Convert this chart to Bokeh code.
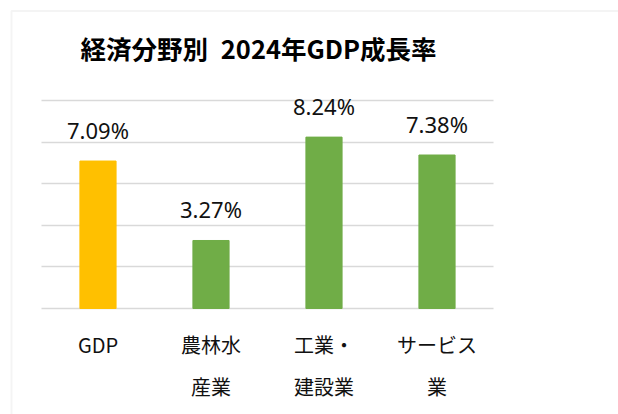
from bokeh.plotting import figure
from bokeh.models import (ColumnDataSource, Range1d, FixedTicker, Grid,
                          LabelSet, Label, BoxAnnotation)
from bokeh.core.properties import value
from bokeh.embed import file_html
from bokeh.resources import INLINE

# ---- data ----
categories = ["GDP", "農林水産業", "工業・建設業", "サービス業"]
values = [7.09, 3.27, 8.24, 7.38]
bar_colors = ["#FFC000", "#70AD47", "#70AD47", "#70AD47"]
label_line1 = ["GDP", "農林水", "工業・", "サービス"]
label_line2 = ["", "産業", "建設業", "業"]
grid_ticks = [0, 2, 4, 6, 8, 10]
title_text = "経済分野別\u20022024年GDP成長率"

idx = list(range(len(categories)))
source = ColumnDataSource(dict(
    x=idx,
    cat=categories,
    val=values,
    zero=[0] * len(categories),
    color=bar_colors,
    txt=[f"{v:.2f}%" for v in values],
    l1=label_line1,
    l2=label_line2,
))

W, H = 618, 414
# frame covers the whole canvas; ranges chosen so that the plot area is 41..493 x 100..308
p = figure(width=W, height=H, output_backend="svg", toolbar_location=None,
           x_range=Range1d(-0.8628, 4.6062), y_range=Range1d(-5.096, 14.808),
           x_axis_location=None, y_axis_location=None,
           min_border=0)
p.outline_line_color = None
p.background_fill_color = "white"
p.border_fill_color = "white"
p.grid.visible = False

# gridlines
try:
    g = Grid(dimension=1, ticker=FixedTicker(ticks=grid_ticks),
             cross_bounds=(-0.5, len(categories) - 0.5))
    g.grid_line_color = "#D9D9D9"
    g.grid_line_width = 1.6
    p.add_layout(g, "center")
except Exception:
    p.segment(x0=[-0.5] * len(grid_ticks), x1=[len(categories) - 0.5] * len(grid_ticks),
              y0=grid_ticks, y1=grid_ticks, line_color="#D9D9D9", line_width=1.6)

p.vbar(x="x", top="val", width=0.32, color="color", source=source)

# value labels
p.add_layout(LabelSet(x="x", y="val", text="txt", source=source,
                      text_align="center", text_baseline="alphabetic",
                      y_offset=22, text_font=value("Noto Sans"),
                      text_font_size="22px", text_color="#111111"))

# category labels (two lines)
for col, off in (("l1", -44), ("l2", -86)):
    p.add_layout(LabelSet(x="x", y="zero", text=col, source=source,
                          text_align="center", text_baseline="alphabetic",
                          y_offset=off, text_font=value("Noto Sans CJK JP"),
                          text_font_size="20px", text_color="#111111"))

# title
p.add_layout(Label(x=258, y=H - 47, x_units="screen", y_units="screen",
                   text=title_text, text_align="center", text_baseline="middle",
                   text_font="Noto Sans CJK JP", text_font_style="bold",
                   text_font_size="25.5px", text_color="#000000"))

# chart area border (left and top visible)
p.add_layout(BoxAnnotation(left=11, top=10.5, right=3000, bottom=3000,
                           left_units="canvas", right_units="canvas",
                           top_units="canvas", bottom_units="canvas",
                           fill_alpha=0, line_color="#D9D9D9", line_width=2))

open("out.html", "w").write(file_html(p, INLINE))
